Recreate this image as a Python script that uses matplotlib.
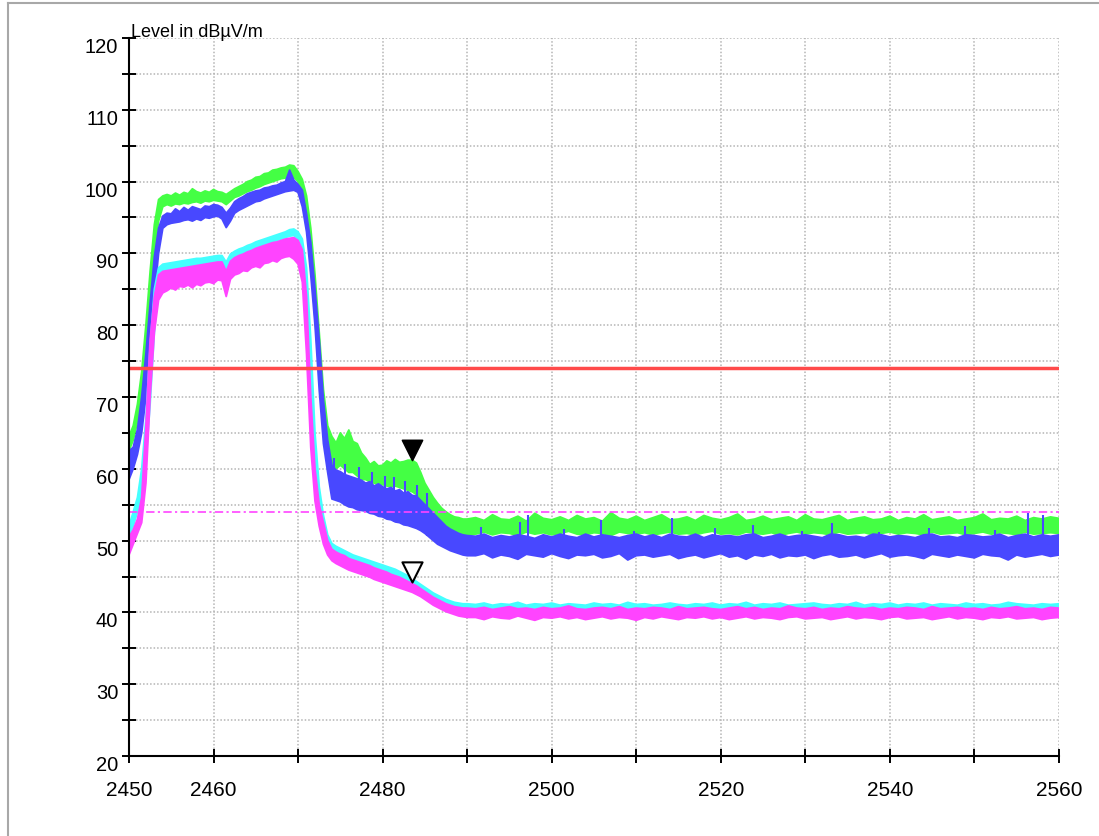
#!/usr/bin/env python3

'''
Radiated emission scan around the 2.4 GHz band edge.

Four traces (peak / average, two polarisations) are stored as min/max
envelopes per frequency bin and drawn as filled bands, with the peak (74)
and average (54) limit lines and the band edge markers at 2483.5 MHz.
'''

import numpy as np
import matplotlib.pyplot as plt
from matplotlib.lines import Line2D
from matplotlib.path import Path

plt.rcParams['font.family'] = ['Liberation Sans', 'DejaVu Sans']

# frequency bins in MHz: 0.5 MHz up to 2490, then 1 MHz
FREQ = np.concatenate([np.arange(2450.0, 2490.0, 0.5), np.arange(2490.0, 2561.0, 1.0)])

# peak, horizontal (green)
GREEN_LO = [
    62.5, 64.0, 66.5, 70.0, 76.0, 83.0, 90.0, 94.5, 96.5, 96.8,
    96.6, 96.9, 96.8, 97.0, 96.9, 97.1, 97.2, 97.0, 97.3, 97.2,
    97.4, 97.3, 97.2, 96.8, 97.3, 97.8, 98.0, 98.3, 98.6, 98.8,
    99.1, 99.3, 99.6, 99.8, 100.0, 100.2, 100.4, 100.5, 100.7, 100.6,
    100.0, 98.5, 95.0, 89.0, 81.0, 73.0, 66.0, 62.0, 60.5, 60.0,
    60.5, 60.0, 59.5, 59.5, 59.0, 58.5, 58.5, 58.2, 58.0, 57.8,
    57.8, 57.6, 57.5, 57.6, 57.4, 57.2, 57.0, 56.8, 56.4, 55.8,
    55.0, 54.2, 53.5, 52.8, 52.2, 51.7, 51.3, 51.0, 50.8, 50.7,
    50.7,
    50.9, 51.2, 50.8, 51.1, 51.0, 50.7, 51.2, 50.9, 51.1, 50.8,
    51.0, 51.3, 50.9, 50.8, 51.1, 51.0, 50.7, 51.2, 51.0, 50.9,
    51.1, 50.8, 51.0, 51.2, 50.9, 51.0, 50.8, 51.1, 51.3, 50.9,
    51.0, 50.8, 51.2, 51.0, 50.9, 51.1, 50.7, 51.0, 51.2, 50.9,
    51.1, 51.0, 50.8, 51.2, 50.9, 51.0, 51.1, 50.8, 51.0, 51.2,
    50.9, 51.1, 51.0, 50.8, 51.2, 50.9, 51.0, 51.1, 50.8, 51.0,
    51.2, 50.9, 51.1, 51.0, 50.8, 51.2, 50.9, 51.0, 51.1, 51.0,
]
GREEN_HI = [
    64.5, 66.0, 69.0, 73.5, 80.0, 87.5, 94.0, 97.5, 98.0, 98.2,
    98.0, 98.4, 98.1, 98.5, 98.3, 99.0, 98.6, 98.4, 98.7, 98.5,
    98.9, 98.6, 98.5, 98.2, 98.6, 99.0, 99.3, 99.6, 100.0, 100.2,
    100.6, 100.7, 101.1, 101.2, 101.6, 101.7, 101.9, 102.0, 102.3, 102.2,
    101.4, 100.3, 98.0, 93.5, 87.0, 79.0, 71.0, 66.0, 64.5, 63.6,
    65.0, 64.2, 65.4, 63.8, 63.5, 62.2, 61.5, 60.6, 61.0, 60.4,
    60.5, 61.1, 60.8, 61.3, 60.9, 61.0, 61.2, 61.2, 60.8, 59.5,
    58.0, 57.0, 56.0, 55.2, 54.5, 54.0, 53.6, 53.3, 53.2, 53.0,
    53.0,
    53.2, 52.8, 53.6, 53.0, 52.9, 53.4, 52.7, 53.8, 53.1, 52.9,
    53.3, 52.8, 53.5, 53.0, 53.2, 52.7, 53.9, 53.1, 52.9, 53.4,
    52.8, 53.2, 53.6, 52.9, 53.0, 53.3, 52.8, 53.5, 53.1, 52.9,
    53.2, 53.7, 52.8, 53.0, 53.4, 52.9, 53.1, 53.3, 52.8, 53.6,
    53.0, 52.9, 53.2, 53.5, 52.8, 53.1, 53.3, 52.9, 53.0, 53.4,
    52.8, 53.2, 53.0, 53.6, 52.9, 53.1, 53.3, 52.8, 53.0, 53.2,
    53.7, 52.9, 53.1, 53.0, 53.4, 52.8, 53.2, 53.0, 53.3, 53.1,
]

# peak, vertical (blue)
BLUE_LO = [
    58.5, 60.0, 62.0, 65.0, 70.0, 77.0, 84.0, 90.0, 93.5, 94.0,
    94.2, 94.3, 94.4, 94.6, 94.7, 94.5, 94.8, 94.6, 95.0, 94.9,
    95.1, 95.2, 94.8, 93.6, 94.5, 95.6, 96.0, 96.3, 96.6, 96.9,
    97.2, 97.3, 97.6, 97.8, 98.0, 98.2, 98.4, 98.6, 98.7, 98.8,
    98.5, 96.5, 93.0, 87.0, 80.0, 71.0, 63.5, 59.5, 55.8, 55.6,
    55.4, 55.0, 54.7, 54.6, 54.3, 54.2, 54.1, 53.8, 53.7, 53.4,
    53.3, 53.0, 52.9, 52.6, 52.5, 52.2, 52.1, 51.9, 51.7, 51.4,
    51.0, 50.5, 50.0, 49.5, 49.2, 48.9, 48.6, 48.4, 48.2, 48.0,
    47.9,
    47.9, 48.2, 47.6, 48.0, 47.8, 47.4, 48.1, 47.9, 47.7, 48.2,
    47.8, 47.5, 48.0, 47.9, 48.1, 47.6, 47.8, 48.2, 47.3, 47.9,
    48.0, 47.7, 47.9, 48.1, 47.5, 47.8, 48.0, 47.6, 47.9, 48.2,
    47.7, 47.9, 47.4, 48.0, 47.8, 48.1, 47.6, 47.9, 47.8, 48.0,
    47.5, 47.9, 48.1, 47.7, 47.8, 48.0, 47.6, 47.9, 48.2, 47.7,
    47.9, 48.0, 47.8, 47.5, 48.1, 47.9, 47.7, 48.0, 47.8, 47.6,
    48.1, 47.9, 47.8, 47.3, 48.0, 47.7, 47.9, 48.1, 47.8, 48.0,
]
BLUE_HI = [
    62.5, 63.0, 65.5, 70.0, 76.0, 83.0, 89.5, 93.5, 95.2, 95.6,
    95.5, 96.2, 95.8, 96.4, 96.0, 96.5, 96.3, 96.1, 96.6, 96.5,
    96.8, 96.7, 96.4, 95.6, 96.3, 97.2, 97.6, 97.9, 98.3, 98.5,
    98.7, 98.8, 99.1, 99.2, 99.4, 99.5, 99.8, 100.0, 101.6, 100.2,
    99.6, 98.8, 95.5, 91.5, 85.0, 78.0, 69.5, 64.0, 60.5, 59.8,
    59.6, 59.2, 59.0, 58.8, 58.6, 58.4, 58.0, 58.2, 57.6, 57.9,
    57.5, 57.2, 57.4, 56.9, 57.1, 56.6, 56.8, 56.3, 56.2, 55.6,
    55.0, 54.4, 53.8, 53.2, 52.6, 52.0, 51.6, 51.3, 51.0, 50.8,
    50.7,
    50.6, 50.9, 50.4, 50.7, 50.5, 50.8, 50.6, 50.3, 50.8, 50.5,
    50.9, 50.6, 50.4, 50.9, 50.5, 50.8, 50.6, 50.4, 50.7, 50.9,
    50.5, 50.8, 50.4, 50.9, 50.6, 50.5, 50.9, 50.4, 50.8, 50.6,
    50.7, 50.5, 50.8, 50.9, 50.4, 50.6, 50.9, 50.5, 50.7, 50.8,
    50.6, 50.4, 50.9, 50.8, 50.5, 50.6, 50.4, 50.9, 50.8, 50.5,
    50.7, 50.6, 50.4, 50.8, 50.9, 50.5, 50.6, 50.4, 50.8, 50.7,
    50.5, 50.6, 50.9, 50.4, 50.7, 50.9, 50.5, 50.8, 50.6, 50.8,
]
# single-bin peaks standing out of the blue trace
BLUE_SPIKE_FREQ = [
    2474.3, 2475.6, 2477.2, 2478.8, 2480.3, 2481.4, 2482.6, 2484.1, 2485.3,
    2491.6, 2496.3, 2497.2, 2501.4, 2505.8, 2509.7, 2514.2, 2519.3, 2523.8,
    2529.6, 2533.1, 2538.7, 2544.6, 2548.9, 2552.4, 2556.3, 2558.1,
]
BLUE_SPIKE_LEVEL = [
    61.5, 60.6, 60.2, 59.6, 59.0, 58.8, 58.3, 57.8, 56.6,
    51.9, 52.6, 53.6, 51.6, 52.9, 51.3, 53.2, 51.7, 52.2,
    51.4, 52.4, 51.2, 51.8, 52.0, 51.5, 53.8, 53.5,
]

# average, horizontal (cyan)
CYAN_LO = [
    50.5, 52.0, 54.0, 56.0, 61.0, 69.0, 79.0, 85.5, 87.5, 87.7,
    87.8, 87.9, 88.0, 88.1, 88.2, 88.3, 88.4, 88.5, 88.6, 88.7,
    88.8, 88.9, 88.9, 87.8, 89.1, 89.5, 89.8, 90.0, 90.3, 90.5,
    90.8, 91.0, 91.2, 91.4, 91.6, 91.8, 92.0, 92.2, 92.4, 92.5,
    92.0, 90.5, 82.0, 70.0, 59.0, 54.0, 51.0, 49.3, 48.6, 48.3,
    48.0, 47.7, 47.4, 47.2, 47.0, 46.8, 46.6, 46.4, 46.2, 46.0,
    45.8, 45.6, 45.4, 45.2, 45.0, 44.7, 44.4, 44.0, 43.6, 43.2,
    42.8, 42.4, 42.0, 41.7, 41.4, 41.1, 40.9, 40.7, 40.6, 40.5,
    40.5,
    40.5, 40.4, 40.6, 40.5, 40.3, 40.5, 40.6, 40.4, 40.5, 40.5,
    40.4, 40.6, 40.5, 40.3, 40.5, 40.4, 40.6, 40.5, 40.4, 40.5,
    40.6, 40.4, 40.5, 40.5, 40.3, 40.6, 40.5, 40.4, 40.5, 40.6,
    40.4, 40.5, 40.3, 40.5, 40.6, 40.4, 40.5, 40.5, 40.4, 40.6,
    40.5, 40.3, 40.5, 40.4, 40.6, 40.5, 40.4, 40.5, 40.6, 40.4,
    40.5, 40.5, 40.3, 40.6, 40.4, 40.5, 40.5, 40.4, 40.6, 40.5,
    40.4, 40.5, 40.6, 40.3, 40.5, 40.4, 40.5, 40.6, 40.4, 40.5,
]
CYAN_HI = [
    52.0, 54.0, 56.0, 60.0, 67.0, 77.0, 85.0, 88.0, 88.5, 88.6,
    88.7, 88.8, 88.9, 89.0, 89.1, 89.2, 89.3, 89.3, 89.4, 89.5,
    89.6, 89.7, 89.7, 88.8, 89.9, 90.3, 90.6, 90.8, 91.1, 91.3,
    91.6, 91.8, 92.0, 92.2, 92.4, 92.6, 92.8, 93.0, 93.3, 93.4,
    93.0, 92.0, 88.0, 78.0, 65.0, 57.5, 53.5, 50.8, 49.6, 49.2,
    48.9, 48.6, 48.3, 48.0, 47.8, 47.6, 47.4, 47.2, 47.0, 46.8,
    46.6, 46.4, 46.2, 46.0, 45.7, 45.4, 45.1, 44.7, 44.3, 43.9,
    43.5, 43.1, 42.7, 42.4, 42.1, 41.8, 41.6, 41.4, 41.3, 41.2,
    41.2,
    41.1, 41.3, 41.0, 41.2, 41.1, 41.4, 41.0, 41.2, 41.1, 41.3,
    41.0, 41.2, 41.1, 41.0, 41.3, 41.1, 41.2, 41.0, 41.4, 41.1,
    41.2, 41.0, 41.1, 41.3, 41.1, 41.0, 41.2, 41.1, 41.3, 41.0,
    41.2, 41.1, 41.4, 41.0, 41.2, 41.1, 41.3, 41.0, 41.1, 41.2,
    41.3, 41.1, 41.0, 41.2, 41.1, 41.4, 41.0, 41.2, 41.1, 41.3,
    41.0, 41.2, 41.1, 41.3, 41.0, 41.2, 41.1, 41.0, 41.3, 41.1,
    41.2, 41.0, 41.1, 41.4, 41.2, 41.1, 41.0, 41.2, 41.1, 41.2,
]

# average, vertical (magenta)
MAGENTA_LO = [
    48.0, 49.5, 51.0, 52.5, 58.0, 70.0, 79.0, 83.5, 84.5, 84.8,
    85.2, 84.9, 85.4, 85.3, 85.6, 85.2, 85.7, 85.5, 85.9, 86.0,
    85.8, 86.3, 86.2, 84.0, 86.4, 87.0, 87.2, 87.6, 87.5, 88.0,
    88.2, 88.0, 88.6, 88.7, 89.0, 88.8, 89.3, 89.5, 89.6, 89.2,
    88.5, 86.0, 76.0, 63.0, 55.5, 52.0, 49.5, 48.0, 47.2, 46.8,
    46.5, 46.2, 45.9, 45.7, 45.5, 45.3, 45.1, 44.9, 44.6, 44.4,
    44.2, 44.0, 43.8, 43.6, 43.4, 43.2, 43.0, 42.8, 42.5, 42.2,
    41.8, 41.4, 41.0, 40.7, 40.4, 40.1, 39.9, 39.7, 39.5, 39.4,
    39.3,
    39.3, 39.0, 39.4, 39.2, 39.1, 39.5, 39.2, 38.9, 39.3, 39.2,
    39.4, 39.1, 39.3, 39.0, 39.2, 39.4, 39.1, 39.3, 39.2, 38.9,
    39.3, 39.1, 39.4, 39.2, 39.0, 39.3, 39.2, 39.4, 39.1, 39.3,
    39.0, 39.2, 39.4, 39.1, 39.3, 39.2, 39.0, 39.3, 39.4, 39.1,
    39.2, 39.3, 39.0, 39.2, 39.4, 39.1, 39.3, 39.2, 39.0, 39.3,
    39.4, 39.1, 39.2, 39.3, 39.0, 39.2, 39.4, 39.1, 39.3, 39.2,
    39.0, 39.3, 39.2, 39.4, 39.1, 39.2, 39.3, 39.0, 39.2, 39.3,
]
MAGENTA_HI = [
    50.5, 51.5, 53.0, 56.0, 66.0, 78.0, 84.0, 87.0, 87.5, 87.6,
    87.7, 87.8, 87.9, 88.0, 88.1, 88.2, 88.3, 88.4, 88.5, 88.6,
    88.7, 88.8, 88.8, 87.5, 88.9, 89.4, 89.7, 89.9, 90.2, 90.4,
    90.7, 90.9, 91.1, 91.3, 91.5, 91.6, 91.8, 92.0, 92.1, 92.2,
    91.8, 90.5, 84.0, 70.0, 60.0, 55.0, 52.5, 50.0, 48.8, 48.4,
    48.1, 47.9, 47.5, 47.3, 47.1, 46.9, 46.7, 46.5, 46.2, 46.0,
    45.8, 45.6, 45.3, 45.1, 44.9, 44.6, 44.3, 44.0, 43.7, 43.3,
    42.9, 42.5, 42.1, 41.8, 41.5, 41.2, 41.0, 40.8, 40.7, 40.6,
    40.6,
    40.5, 40.7, 40.4, 40.6, 40.8, 40.5, 40.6, 40.4, 40.7, 40.5,
    40.6, 40.9, 40.5, 40.4, 40.6, 40.7, 40.5, 40.8, 40.4, 40.6,
    40.5, 40.7, 40.6, 40.4, 40.8, 40.5, 40.6, 40.7, 40.5, 40.4,
    40.6, 40.8, 40.5, 40.7, 40.4, 40.6, 40.5, 40.9, 40.6, 40.5,
    40.7, 40.4, 40.6, 40.5, 40.8, 40.6, 40.5, 40.7, 40.4, 40.6,
    40.5, 40.7, 40.6, 40.4, 40.8, 40.5, 40.6, 40.7, 40.5, 40.6,
    40.4, 40.7, 40.5, 40.6, 40.8, 40.5, 40.6, 40.4, 40.7, 40.6,
]

PEAK_LIMIT = 74.0
AVG_LIMIT = 54.0

# band edge markers: (frequency, level)
MARKER_PEAK = (2483.5, 61.2)
MARKER_AVG = (2483.5, 44.3)

X_TICKS = list(range(2450, 2561, 10))
X_LABELS = ['2450', '2460', '', '2480', '', '2500', '', '2520', '', '2540', '', '2560']
Y_TICKS = list(range(20, 121, 10))
Y_MINOR = list(range(25, 120, 10))

GREEN = '#44ff44'
BLUE = '#4848ff'
CYAN = '#44ffff'
MAGENTA = '#ff44ff'


def draw_trace(ax, lo, hi, color):
    '''
    Draw one min/max trace as a filled band with its edges
    '''
    ax.fill_between(FREQ, lo, hi, facecolor=color, edgecolor='none', zorder=3)
    ax.plot(FREQ, hi, color=color, lw=1.3, zorder=3)
    ax.plot(FREQ, lo, color=color, lw=1.3, zorder=3)


fig = plt.figure(figsize=(10.99, 8.36), dpi=100)
ax = fig.add_axes([129 / 1099, 1 - 756 / 836, 930 / 1099, 718 / 836])

draw_trace(ax, GREEN_LO, GREEN_HI, GREEN)
draw_trace(ax, BLUE_LO, BLUE_HI, BLUE)
blue_base = np.interp(BLUE_SPIKE_FREQ, FREQ, BLUE_LO)
ax.vlines(BLUE_SPIKE_FREQ, blue_base, BLUE_SPIKE_LEVEL, color=BLUE, lw=1.5, zorder=3)
draw_trace(ax, CYAN_LO, CYAN_HI, CYAN)
draw_trace(ax, MAGENTA_LO, MAGENTA_HI, MAGENTA)

# limit lines
ax.axhline(PEAK_LIMIT, color='#ff4a4a', lw=2.5, zorder=4)
ax.axhline(AVG_LIMIT, color=MAGENTA, lw=1.2, dashes=(5, 2, 1.3, 2), zorder=4)

# band edge markers, tip on the measured level
tip_down = Path([(-0.5, 1.0), (0.5, 1.0), (0.0, 0.0), (-0.5, 1.0)],
                [Path.MOVETO, Path.LINETO, Path.LINETO, Path.CLOSEPOLY])
ax.plot(*MARKER_PEAK, marker=tip_down, ms=29, mfc='black', mec='black',
        mew=1.2, zorder=6, clip_on=False)
ax.plot(*MARKER_AVG, marker=tip_down, ms=29, mfc='white', mec='black',
        mew=1.5, zorder=6, clip_on=False)

# axes layout
ax.set_xlim(2450, 2560)
ax.set_ylim(20, 120)
ax.set_xticks(X_TICKS)
ax.set_xticklabels(X_LABELS, fontsize=15)
ax.set_yticks(Y_TICKS)
ax.set_yticks(Y_MINOR, minor=True)
ax.set_yticklabels([str(v) for v in Y_TICKS], fontsize=14.5)
for lbl in ax.get_yticklabels():
    lbl.set_verticalalignment('top')

ax.tick_params(axis='both', which='both', direction='inout', length=9.5,
               width=1.4, color='black')
ax.tick_params(axis='x', pad=13)
ax.tick_params(axis='y', pad=3)

ax.grid(True, which='both', color='#b4b4b4', lw=1.1, linestyle=(0, (1, 1.3)))
ax.set_axisbelow(True)

for side in ('top', 'right'):
    ax.spines[side].set_visible(False)
for side in ('left', 'bottom'):
    ax.spines[side].set_linewidth(1.5)
    ax.spines[side].set_zorder(5)

fig.text(131 / 1099, 1 - 37 / 836, 'Level in dBµV/m', fontsize=13,
         ha='left', va='baseline')

# light frame along the top and left edge of the sheet
frame_y = 1 - 3 / 836
frame_x = 8 / 1099
fig.add_artist(Line2D([frame_x, 1.0], [frame_y, frame_y], color='#a8a8a8', lw=1.5))
fig.add_artist(Line2D([frame_x, frame_x], [0.0, frame_y], color='#a8a8a8', lw=1.5))

fig.savefig('out.png', dpi=100)
